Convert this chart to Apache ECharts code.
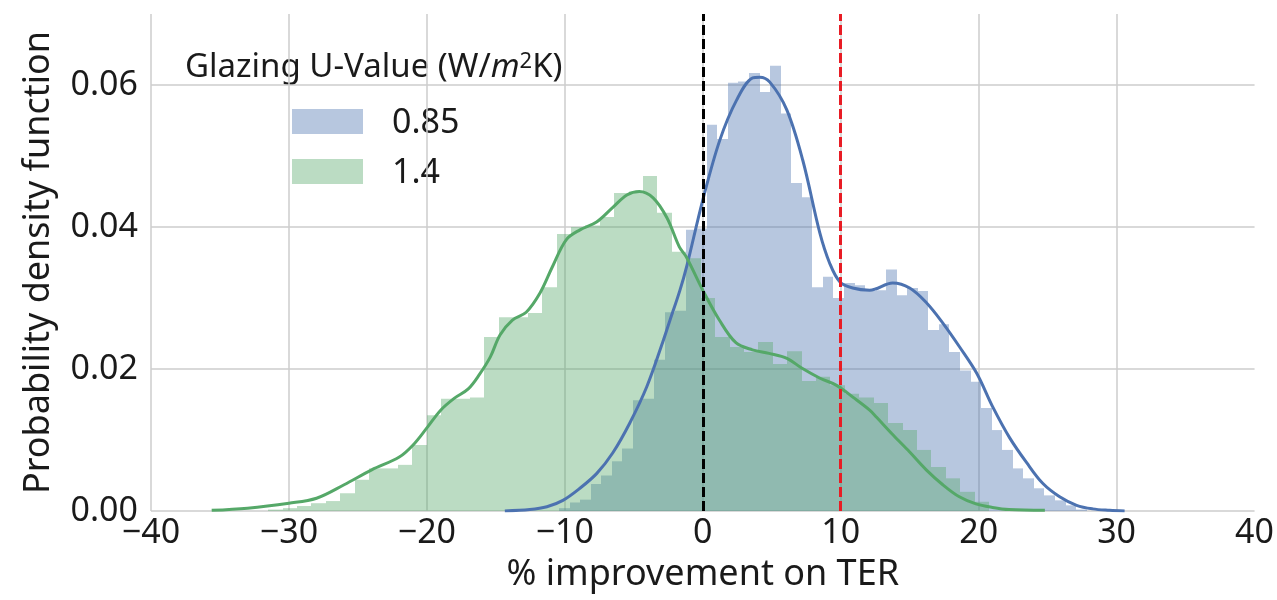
<!DOCTYPE html>
<html>
<head>
<meta charset="utf-8">
<script src="https://cdn.jsdelivr.net/npm/echarts@6/dist/echarts.min.js"></script>
<style>
  html, body { margin: 0; padding: 0; background: #ffffff; }
  #chart { width: 1277px; height: 600px; }
</style>
</head>
<body>
<div id="chart"></div>
<script>
// ---- data -------------------------------------------------------------
// Normalised histograms (50 equal-width bins each)
const seriesNames = ['0.85', '1.4'];

const binStart085 = -10.42;
const binWidth085 = 0.765;
const density085 = [
  0.0004, 0.0012, 0.0016, 0.0038, 0.0050, 0.0070, 0.0088, 0.0156, 0.0158, 0.0213,
  0.0280, 0.0282, 0.0396, 0.0398, 0.0544, 0.0524, 0.0603, 0.0605, 0.0617, 0.0590,
  0.0627, 0.0560, 0.0462, 0.0442, 0.0315, 0.0330, 0.0300, 0.0321, 0.0318, 0.0310,
  0.0311, 0.0340, 0.0304, 0.0314, 0.0310, 0.0255, 0.0263, 0.0224, 0.0198, 0.0182,
  0.0145, 0.0114, 0.0086, 0.0060, 0.0046, 0.0032, 0.0022, 0.0015, 0.0008, 0.0002
];

const binStart14 = -31.5;
const binWidth14 = 1.045;
const density14 = [
  0.0002, 0.0004, 0.0007, 0.0011, 0.0014, 0.0025, 0.0044, 0.0060, 0.0060, 0.0065,
  0.0093, 0.0135, 0.0158, 0.0158, 0.0160, 0.0245, 0.0273, 0.0273, 0.0279, 0.0315,
  0.0390, 0.0400, 0.0402, 0.0414, 0.0448, 0.0450, 0.0472, 0.0420, 0.0365, 0.0356,
  0.0300, 0.0245, 0.0231, 0.0224, 0.0238, 0.0207, 0.0225, 0.0183, 0.0189, 0.0177,
  0.0165, 0.0160, 0.0152, 0.0124, 0.0114, 0.0086, 0.0062, 0.0046, 0.0027, 0.0013
];

// Kernel density estimates
const kdeX085 = [-14.35, -12.54, -11.3, -10.14, -8.91, -7.68, -6.52, -5.29, -4.06, -2.9,
  -2.39, -1.67, -1.16, 0, 1.23, 2.46, 3.62, 4.13, 4.86, 6.09,
  7.25, 8.48, 9.2, 9.93, 10.87, 12.1, 13.77, 15.0, 16.23, 17.39,
  18.62, 19.86, 21.01, 22.25, 23.48, 24.64, 25.87, 27.1, 28.26, 29.49, 30.58];
const kdeY085 = [0, 0.0002, 0.0006, 0.0015, 0.0032, 0.0053, 0.0082, 0.0124, 0.0175, 0.0238,
  0.0268, 0.0310, 0.0345, 0.0438, 0.0522, 0.0579, 0.0610, 0.0611, 0.0604, 0.0565,
  0.0494, 0.0392, 0.0349, 0.0323, 0.0314, 0.0311, 0.0321, 0.0314, 0.0293, 0.0265,
  0.0231, 0.0194, 0.0147, 0.0103, 0.0068, 0.0039, 0.0020, 0.0008, 0.0003, 0.0001, 0];

const kdeX14 = [-35.6, -33.0, -30.0, -28.0, -26.0, -24.0, -22.0, -21.0, -20.0, -19.0,
  -18.0, -17.0, -16.2, -15.4, -14.7, -13.8, -12.8, -11.8, -10.9, -9.9,
  -8.9, -7.7, -6.5, -5.5, -4.6, -3.6, -2.6, -1.7, -1.2, 0,
  1.2, 2.4, 3.6, 4.8, 6.1, 7.2, 8.5, 9.7, 10.9, 12.1,
  12.6, 13.8, 15.0, 16.2, 17.4, 18.6, 19.8, 21.0, 22.2, 24.8];
const kdeY14 = [0.0001, 0.0004, 0.0011, 0.0018, 0.0037, 0.0058, 0.0076, 0.0093, 0.0117, 0.0142,
  0.0159, 0.0172, 0.0192, 0.0217, 0.0248, 0.0269, 0.0280, 0.0307, 0.0344, 0.0382,
  0.0396, 0.0407, 0.0428, 0.0445, 0.0450, 0.0441, 0.0413, 0.0372, 0.0358, 0.0311,
  0.0269, 0.0237, 0.0227, 0.0222, 0.0215, 0.0201, 0.0187, 0.0177, 0.0160, 0.0142,
  0.0132, 0.0107, 0.0083, 0.0058, 0.0037, 0.0020, 0.0010, 0.0005, 0.0002, 0.0001];

// Reference lines on the x axis
const baselineX = 0;
const targetX = 10;

// Axes
const xMin = -40, xMax = 40, xStep = 10;
const yMin = 0, yMax = 0.07, yStep = 0.02;

const xTitle = '% improvement on TER';
const yTitle = 'Probability density function';
const legendTitle = 'Glazing U-Value (W/{i|m}{s|2}K)';

// ---- styling ----------------------------------------------------------
const FONT = '"Noto Sans", "Open Sans", sans-serif';
const BLUE = 'rgb(76,114,176)';
const GREEN = 'rgb(85,168,104)';
const BLUE_FILL = 'rgba(76,114,176,0.4)';
const GREEN_FILL = 'rgba(85,168,104,0.4)';
const GRID = '#cccccc';
const TEXT = '#1a1a1a';

function pairs(xs, ys) { return xs.map((x, i) => [x, ys[i]]); }

function histSeries(name, start, width, dens, fill) {
  const data = dens.map((d, i) => [start + i * width, start + (i + 1) * width, d]);
  return {
    type: 'custom',
    name: name,
    data: data,
    encode: { x: [0, 1], y: 2 },
    silent: true,
    clip: true,
    renderItem: function (params, api) {
      const top = api.coord([api.value(0), api.value(2)]);
      const bottom = api.coord([api.value(1), 0]);
      const x0 = Math.round(top[0]);
      const x1 = Math.round(bottom[0]);
      return {
        type: 'rect',
        shape: { x: x0, y: top[1], width: x1 - x0, height: bottom[1] - top[1] },
        style: { fill: fill }
      };
    }
  };
}

function kdeSeries(name, xs, ys, color) {
  return {
    type: 'line',
    name: name + ' kde',
    data: pairs(xs, ys),
    smooth: 0.35,
    showSymbol: false,
    silent: true,
    lineStyle: { color: color, width: 3 },
    clip: true
  };
}

function fmtX(v) { return v < 0 ? '\u2212' + Math.abs(v) : String(v); }

const chart = echarts.init(document.getElementById('chart'), null, { renderer: 'canvas' });

chart.setOption({
  animation: false,
  backgroundColor: '#ffffff',
  grid: { left: 151, right: 20, top: 14, bottom: 89, containLabel: false },
  xAxis: {
    type: 'value',
    min: xMin, max: xMax, interval: xStep,
    axisLine: { show: false },
    axisTick: { show: false },
    axisLabel: { formatter: fmtX, color: TEXT, fontFamily: FONT, fontSize: 34, margin: 5 },
    splitLine: { show: true, showMaxLine: false, lineStyle: { color: GRID, width: 1.5 } },
    name: xTitle,
    nameLocation: 'middle',
    nameGap: 46,
    nameTextStyle: { color: TEXT, fontFamily: FONT, fontSize: 36 }
  },
  yAxis: {
    type: 'value',
    min: yMin, max: yMax, interval: yStep,
    axisLine: { show: false },
    axisTick: { show: false },
    axisLabel: {
      formatter: function (v) { return v.toFixed(2); },
      showMaxLabel: false,
      color: TEXT, fontFamily: FONT, fontSize: 34, margin: 13
    },
    splitLine: { show: true, showMaxLine: false, lineStyle: { color: GRID, width: 1.5 } },
    name: yTitle,
    nameLocation: 'middle',
    nameRotate: 90,
    nameGap: 94,
    nameTextStyle: { color: TEXT, fontFamily: FONT, fontSize: 36 }
  },
  series: [
    histSeries(seriesNames[0], binStart085, binWidth085, density085, BLUE_FILL),
    kdeSeries(seriesNames[0], kdeX085, kdeY085, BLUE),
    histSeries(seriesNames[1], binStart14, binWidth14, density14, GREEN_FILL),
    kdeSeries(seriesNames[1], kdeX14, kdeY14, GREEN),
    {
      type: 'line',
      name: 'reference',
      data: [],
      silent: true,
      markLine: {
        silent: true,
        symbol: ['none', 'none'],
        label: { show: false },
        animation: false,
        data: [
          { xAxis: baselineX, lineStyle: { color: '#000000', width: 3, type: [10, 4] } },
          { xAxis: targetX, lineStyle: { color: 'rgb(232,28,36)', width: 3, type: [10, 4] } }
        ]
      }
    }
  ],
  graphic: [
    {
      type: 'text',
      x: 185, y: 68,
      style: {
        text: legendTitle,
        fill: TEXT,
        fontFamily: FONT,
        fontSize: 33,
        verticalAlign: 'middle',
        rich: {
          i: { fontStyle: 'italic', fontSize: 33, fontFamily: FONT, fill: TEXT },
          s: { fontSize: 22, fontFamily: FONT, fill: TEXT, padding: [0, 0, 12, 0] }
        }
      }
    },
    { type: 'rect', shape: { x: 292, y: 109, width: 71, height: 25 }, style: { fill: BLUE_FILL } },
    { type: 'rect', shape: { x: 292, y: 159, width: 71, height: 25 }, style: { fill: GREEN_FILL } },
    {
      type: 'text', x: 392, y: 123,
      style: { text: seriesNames[0], fill: TEXT, fontFamily: FONT, fontSize: 34, verticalAlign: 'middle' }
    },
    {
      type: 'text', x: 392, y: 173,
      style: { text: seriesNames[1], fill: TEXT, fontFamily: FONT, fontSize: 34, verticalAlign: 'middle' }
    }
  ]
});
</script>
</body>
</html>
